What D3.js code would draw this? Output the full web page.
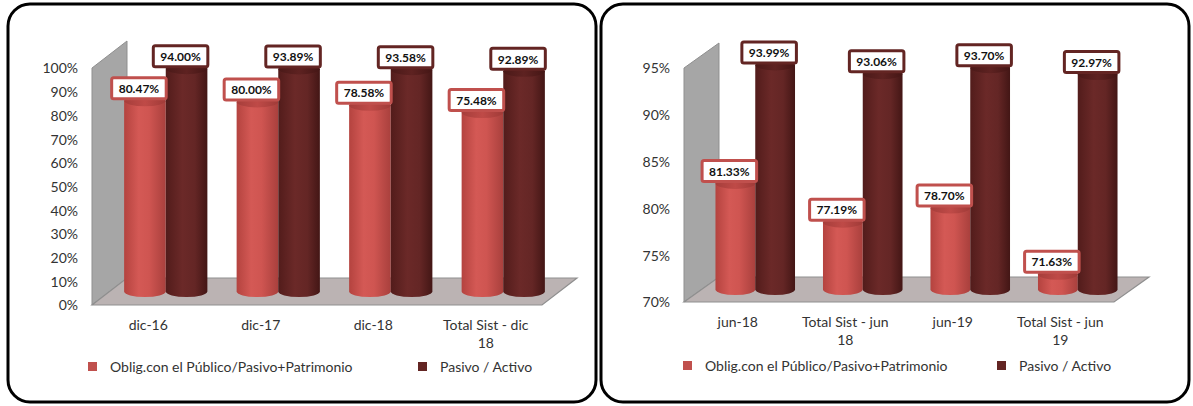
<!DOCTYPE html>
<html lang="es">
<head>
  <meta charset="utf-8">
  <title>Ratios de pasivo</title>
  <script src="https://d3js.org/d3.v7.min.js"></script>
  <style>
    body { margin: 0; background: #fff; }
    text { font-family: Lato, "Noto Sans", sans-serif; fill: #333; }
    .tick text { font-size: 14px; }
    .xlab { font-size: 14px; }
    .legend text { font-size: 14px; }
    .vlabel { font-size: 12px; font-weight: bold; fill: #111; }
  </style>
</head>
<body>
<script>
// data
var seriesNames = ["Oblig.con el Público/Pasivo+Patrimonio", "Pasivo / Activo"];

var leftCategories = ["dic-16", "dic-17", "dic-18", "Total Sist - dic 18"];
var leftOblig  = [80.47, 80.00, 78.58, 75.48];
var leftPasivo = [94.00, 93.89, 93.58, 92.89];
var leftTicks  = [0, 10, 20, 30, 40, 50, 60, 70, 80, 90, 100];

var rightCategories = ["jun-18", "Total Sist - jun 18", "jun-19", "Total Sist - jun 19"];
var rightOblig  = [81.33, 77.19, 78.70, 71.63];
var rightPasivo = [93.99, 93.06, 93.70, 92.97];
var rightTicks  = [70, 75, 80, 85, 90, 95];

var width = 1193, height = 406;

var svg = d3.select("body").append("svg")
  .attr("width", width)
  .attr("height", height);

var defs = svg.append("defs");

// cylinder shading
function grad(id, stops) {
  var lg = defs.append("linearGradient").attr("id", id)
    .attr("x1", "0%").attr("x2", "100%").attr("y1", "0%").attr("y2", "0%");
  stops.forEach(function(s) {
    lg.append("stop").attr("offset", s[0]).attr("stop-color", s[1]);
  });
}
grad("gLight", [["0%", "#b4433f"], ["35%", "#d45955"], ["60%", "#cf5551"], ["100%", "#a9403d"]]);
grad("gDark",  [["0%", "#521c1b"], ["40%", "#6b2928"], ["70%", "#642625"], ["100%", "#431615"]]);
grad("gLightTop", [["0%", "#a63e3b"], ["50%", "#bf4a47"], ["100%", "#a03b38"]]);
grad("gDark2Top", [["0%", "#4a1918"], ["50%", "#5e2221"], ["100%", "#441615"]]);

var fills = ["url(#gLight)", "url(#gDark)"];
var topFills = ["url(#gLightTop)", "url(#gDark2Top)"];
var boxStroke = ["#c0504d", "#632523"];
var legendColor = ["#c0504d", "#632523"];

// panel frames
svg.append("rect").attr("x", 8).attr("y", 4).attr("width", 588).attr("height", 398)
  .attr("rx", 22).attr("fill", "none").attr("stroke", "#000").attr("stroke-width", 3);
svg.append("rect").attr("x", 601).attr("y", 4).attr("width", 588).attr("height", 398)
  .attr("rx", 22).attr("fill", "none").attr("stroke", "#000").attr("stroke-width", 3);

function wrap(text, w) {
  text.each(function() {
    var t = d3.select(this), words = t.text().split(/\s+/).reverse(),
        word, line = [], lineNo = 0, x = t.attr("x"), y = t.attr("y"),
        tspan = t.text(null).append("tspan").attr("x", x).attr("y", y);
    while ((word = words.pop())) {
      line.push(word);
      tspan.text(line.join(" "));
      if (tspan.node().getComputedTextLength() > w && line.length > 1) {
        line.pop();
        tspan.text(line.join(" "));
        line = [word];
        tspan = t.append("tspan").attr("x", x).attr("y", +y + (++lineNo) * 18).text(word);
      }
    }
  });
}

function drawChart(opt) {
  var g = svg.append("g");
  var dx = opt.dx, dy = opt.dy;

  var x = d3.scaleBand().domain(opt.categories).range([opt.x0, opt.x1]);
  var y = d3.scaleLinear().domain(opt.domain).range([opt.yBot, opt.yTop]);

  // side wall
  g.append("path")
    .attr("d", "M" + opt.x0 + "," + y(opt.domain[1]) +
               "L" + (opt.x0 + dx) + "," + (y(opt.domain[1]) + dy) +
               "L" + (opt.x0 + dx) + "," + (y(opt.domain[0]) + dy) +
               "L" + opt.x0 + "," + y(opt.domain[0]) + "Z")
    .attr("fill", "#a6a6a6").attr("stroke", "#8f8f8f").attr("stroke-width", 1);

  // floor
  var yb = y(opt.domain[0]);
  g.append("path")
    .attr("d", "M" + opt.x0 + "," + yb + "L" + opt.x1 + "," + yb +
               "L" + (opt.x1 + dx) + "," + (yb + dy) +
               "L" + (opt.x0 + dx) + "," + (yb + dy) + "Z")
    .attr("fill", "#bbb3b3").attr("stroke", "#8f8f8f").attr("stroke-width", 1.2);

  // y axis
  var ax = g.append("g")
    .attr("transform", "translate(" + opt.tickX + ",0)")
    .call(d3.axisLeft(y).tickValues(opt.ticks).tickSize(0).tickPadding(0)
      .tickFormat(function(d) { return d + "%"; }));
  ax.select(".domain").remove();
  ax.selectAll("text").attr("fill", "#333").attr("dy", "0.35em");

  // x labels
  g.selectAll(".xlab").data(opt.categories).enter().append("text")
    .attr("class", "xlab")
    .attr("x", function(d) { return x(d) + x.bandwidth() / 2; })
    .attr("y", yb + 25)
    .attr("text-anchor", "middle")
    .text(function(d) { return d; })
    .call(wrap, x.bandwidth() - 16);

  var w = x.bandwidth() * 0.37, r = w / 2, ry = 5.5;
  var series = [opt.oblig, opt.pasivo];

  series.forEach(function(vals, s) {
    var cyl = g.append("g");
    opt.categories.forEach(function(cat, i) {
      var c = x(cat) + x.bandwidth() / 2 + dx / 2 + (s === 0 ? -r : r);
      var yTopC = y(vals[i]) + dy / 2;
      var yBotC = yb + dy / 2;
      cyl.append("path")
        .attr("d", "M" + (c - r) + "," + yTopC + "L" + (c - r) + "," + yBotC +
                   "A" + r + "," + ry + " 0 0 0 " + (c + r) + "," + yBotC +
                   "L" + (c + r) + "," + yTopC + "Z")
        .attr("fill", fills[s]);
      cyl.append("ellipse")
        .attr("cx", c).attr("cy", yTopC).attr("rx", r).attr("ry", ry)
        .attr("fill", topFills[s]);
    });
  });

  // value labels
  series.forEach(function(vals, s) {
    opt.categories.forEach(function(cat, i) {
      var c = x(cat) + x.bandwidth() / 2 + dx / 2 + (s === 0 ? -r : r) - 6;
      var by = y(vals[i]) + dy / 2 - 1;
      var lab = g.append("g");
      var box = lab.append("rect");
      var t = lab.append("text").attr("class", "vlabel")
        .attr("x", c).attr("y", by - 11).attr("dy", "0.35em")
        .attr("text-anchor", "middle")
        .text(vals[i].toFixed(2) + "%");
      var tw = t.node().getComputedTextLength();
      box.attr("x", c - tw / 2 - 7).attr("y", by - 22)
        .attr("width", tw + 14).attr("height", 21).attr("rx", 2)
        .attr("fill", "#fff").attr("stroke", boxStroke[s]).attr("stroke-width", 3);
    });
  });

  // legend
  var lg = g.append("g").attr("class", "legend");
  seriesNames.forEach(function(name, s) {
    lg.append("rect").attr("x", opt.legendX[s]).attr("y", opt.legendY - 5)
      .attr("width", 9).attr("height", 9).attr("fill", legendColor[s]);
    lg.append("text").attr("x", opt.legendX[s] + 22).attr("y", opt.legendY)
      .attr("dy", "0.35em").text(name);
  });
}

drawChart({
  categories: leftCategories, oblig: leftOblig, pasivo: leftPasivo,
  domain: [0, 100], ticks: leftTicks,
  x0: 92, x1: 542, yTop: 68, yBot: 305, dx: 35, dy: -27, tickX: 78,
  legendX: [88, 418], legendY: 367
});

drawChart({
  categories: rightCategories, oblig: rightOblig, pasivo: rightPasivo,
  domain: [70, 95], ticks: rightTicks,
  x0: 684, x1: 1114, yTop: 68, yBot: 302, dx: 35, dy: -25, tickX: 670,
  legendX: [683, 997], legendY: 366
});
</script>
</body>
</html>
